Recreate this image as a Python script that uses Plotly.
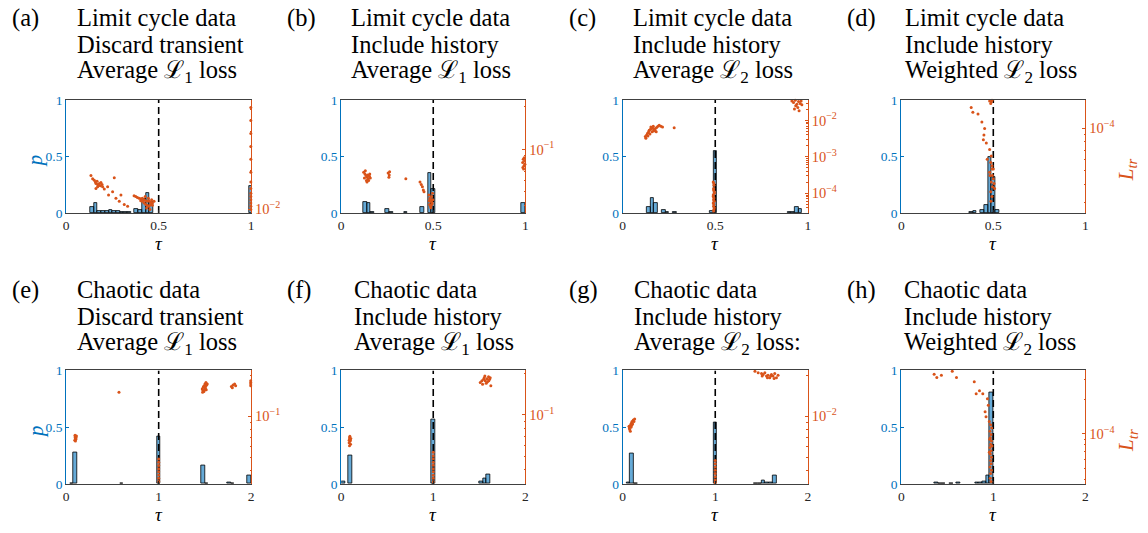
import math
import plotly.graph_objects as go

BLUE = "#0072BD"
ORANGE = "#D95319"
BAR_FILL = "rgba(0,114,189,0.6)"
W, H = 1148, 533

# ---------------- data: histogram bins (tau centre, probability p) ----------------
a_hist_tau = [0.14, 0.16, 0.18, 0.20, 0.22, 0.24, 0.26, 0.28, 0.30, 0.32, 0.34, 0.38, 0.40, 0.42, 0.44, 0.46, 1.00]
a_hist_p = [0.05, 0.09, 0.02, 0.02, 0.02, 0.025, 0.015, 0.015, 0.01, 0.01, 0.005, 0.04, 0.03, 0.12, 0.18, 0.10, 0.24]
b_hist_tau = [0.13, 0.15, 0.17, 0.25, 0.27, 0.35, 0.44, 0.48, 0.50, 0.99]
b_hist_p = [0.095, 0.09, 0.005, 0.035, 0.005, 0.005, 0.055, 0.35, 0.21, 0.09]
c_hist_tau = [0.14, 0.16, 0.18, 0.22, 0.24, 0.28, 0.48, 0.50, 0.90, 0.92, 0.94, 0.96]
c_hist_p = [0.05, 0.13, 0.09, 0.03, 0.01, 0.008, 0.02, 0.55, 0.005, 0.01, 0.05, 0.04]
d_hist_tau = [0.38, 0.40, 0.44, 0.46, 0.48, 0.50, 0.52]
d_hist_p = [0.005, 0.015, 0.025, 0.07, 0.50, 0.32, 0.03]
e_hist_tau = [0.06, 0.10, 0.60, 1.00, 1.48, 1.52, 1.76, 1.80, 1.98]
e_hist_p = [0.005, 0.28, 0.005, 0.42, 0.16, 0.005, 0.015, 0.008, 0.07]
f_hist_tau = [0.02, 0.10, 1.00, 1.52, 1.56, 1.60]
f_hist_p = [0.02, 0.25, 0.57, 0.025, 0.05, 0.08]
g_hist_tau = [0.06, 0.10, 0.14, 1.00, 1.44, 1.48, 1.52, 1.56, 1.60, 1.64]
g_hist_p = [0.015, 0.27, 0.005, 0.54, 0.005, 0.005, 0.028, 0.01, 0.015, 0.077]
h_hist_tau = [0.38, 0.42, 0.46, 0.54, 0.62, 0.82, 0.86, 0.90, 0.94, 0.98]
h_hist_p = [0.015, 0.008, 0.008, 0.008, 0.015, 0.015, 0.01, 0.02, 0.07, 0.81]

# ---------------- data: training runs (tau, log10 of training loss L_tr) ----------------
a_pt_tau = [0.134, 0.143, 0.152, 0.158, 0.161, 0.167, 0.170, 0.176, 0.179, 0.185, 0.188, 0.194, 0.170, 0.161, 0.197,
            0.206, 0.224, 0.229, 0.260, 0.251, 0.269, 0.287, 0.296, 0.314, 0.332,
            0.367, 0.376, 0.385, 0.394, 0.403, 0.412, 0.421, 0.430, 0.439, 0.448, 0.457, 0.466, 0.412, 0.421, 0.430,
            0.439, 0.448, 0.457, 0.466, 0.475, 0.403, 0.427, 0.444, 0.462, 0.435, 0.453,
            0.998, 0.998, 0.998, 0.998, 0.998, 0.998, 0.998, 0.998, 0.998, 0.998, 0.998, 0.998, 0.998, 0.998]
a_pt_logloss = [-1.738, -1.763, -1.775, -1.788, -1.801, -1.783, -1.808, -1.813, -1.801, -1.818, -1.793, -1.808, -1.826,
                -1.838, -1.826, -1.843, -1.826, -1.889, -1.755, -1.864, -1.914, -1.939, -1.889, -1.964, -1.977,
                -1.896, -1.901, -1.909, -1.914, -1.919, -1.914, -1.927, -1.934, -1.939, -1.934, -1.944, -1.952, -1.939,
                -1.952, -1.964, -1.970, -1.977, -1.964, -1.970, -1.939, -1.934, -1.901, -1.914, -1.927, -1.990, -2.002,
                -1.208, -1.309, -1.410, -1.511, -1.612, -1.712, -1.788, -1.838, -1.876, -1.901, -1.927, -1.952, -1.977, -2.002]

b_pt_tau = [0.122, 0.129, 0.135, 0.140, 0.144, 0.147, 0.153, 0.126, 0.137, 0.149, 0.158, 0.131, 0.140, 0.155,
            0.255, 0.261, 0.259, 0.263, 0.351,
            0.428, 0.435, 0.441, 0.446, 0.450, 0.477, 0.482, 0.486, 0.489, 0.495, 0.480, 0.486, 0.491, 0.496, 0.484,
            0.487, 0.493, 0.498, 0.478,
            0.986, 0.989, 0.993, 0.996, 0.991, 0.998, 0.987, 0.994]
b_pt_logloss = [-1.161, -1.173, -1.184, -1.196, -1.180, -1.207, -1.189, -1.202, -1.219, -1.219, -1.202, -1.150, -1.230, -1.173,
                -1.166, -1.180, -1.196, -1.157, -1.207,
                -1.230, -1.248, -1.264, -1.287, -1.299, -1.322, -1.345, -1.356, -1.367, -1.379, -1.390, -1.402, -1.333,
                -1.310, -1.367, -1.413, -1.390, -1.356, -1.363,
                -1.092, -1.070, -1.115, -1.081, -1.138, -1.104, -1.127, -1.058]

c_pt_tau = [0.122, 0.129, 0.134, 0.140, 0.143, 0.149, 0.154, 0.161, 0.168, 0.176, 0.183, 0.190, 0.197, 0.206, 0.215,
            0.125, 0.136, 0.147, 0.158, 0.167, 0.174, 0.181, 0.152, 0.165, 0.278,
            0.489, 0.493, 0.491, 0.495, 0.489, 0.493, 0.491, 0.495, 0.489, 0.493, 0.491, 0.495, 0.493, 0.489, 0.495,
            0.491, 0.493, 0.491,
            0.914, 0.923, 0.932, 0.941, 0.950, 0.959, 0.946, 0.953, 0.935, 0.964, 0.968, 0.928]
c_pt_logloss = [-2.444, -2.399, -2.355, -2.310, -2.266, -2.248, -2.222, -2.204, -2.248, -2.222, -2.195, -2.159, -2.133,
                -2.159, -2.177, -2.488, -2.426, -2.373, -2.310, -2.293, -2.266, -2.310, -2.177, -2.159, -2.204,
                -3.687, -3.776, -3.865, -3.954, -4.043, -4.131, -4.176, -4.220, -4.265, -4.309, -4.353, -4.398, -4.442,
                -4.087, -3.998, -3.909, -3.732, -4.487,
                -1.466, -1.511, -1.449, -1.555, -1.484, -1.538, -1.644, -1.733, -1.600, -1.466, -1.573, -1.689]

d_pt_tau = [0.480, 0.489, 0.493, 0.486, 0.380, 0.389, 0.417, 0.438, 0.453, 0.449, 0.446, 0.462, 0.480, 0.489, 0.486,
            0.493, 0.482, 0.489, 0.496, 0.486, 0.493, 0.500, 0.504, 0.507, 0.480, 0.493, 0.467, 0.500, 0.495, 0.487]
d_pt_logloss = [-3.807, -3.812, -3.802, -3.825, -3.853, -3.887, -3.899, -3.956, -4.002, -4.048, -4.082, -4.105, -4.151,
                -4.197, -4.242, -4.288, -4.334, -4.380, -4.414, -4.449, -4.483, -4.357, -4.391, -4.426, -4.311, -4.265,
                -4.220, -4.288, -4.334, -4.517]

e_pt_tau = [0.096, 0.100, 0.104, 0.093, 0.107, 0.100, 0.111, 0.096, 0.571,
            1.471, 1.482, 1.493, 1.500, 1.507, 1.518, 1.479, 1.489, 1.504, 1.514, 1.525, 1.475, 1.496, 1.486, 1.511,
            1.786, 1.804, 1.821, 1.796, 1.832, 1.995, 1.995, 1.995, 1.995,
            1.0, 1.0, 1.0, 1.0, 1.0, 1.0, 1.0, 1.0]
e_pt_logloss = [-1.153, -1.163, -1.170, -1.177, -1.158, -1.182, -1.146, -1.139, -0.821,
                -0.797, -0.785, -0.773, -0.761, -0.778, -0.768, -0.809, -0.816, -0.792, -0.802, -0.761, -0.821, -0.802,
                -0.778, -0.749,
                -0.778, -0.768, -0.761, -0.788, -0.773, -0.749, -0.761, -0.773, -0.737,
                -1.315, -1.339, -1.363, -1.387, -1.411, -1.435, -1.459, -1.483]

f_pt_tau = [0.090, 0.094, 0.097, 0.086, 0.101, 0.094, 0.090, 0.097, 0.104, 0.086,
            1.511, 1.529, 1.547, 1.554, 1.565, 1.583, 1.601, 1.612, 1.619, 1.576, 1.590, 1.536, 1.626, 1.561, 1.604,
            1.0, 1.0, 1.0, 1.0, 1.0, 1.0, 1.0, 1.0, 1.0, 1.0]
f_pt_logloss = [-1.166, -1.178, -1.190, -1.202, -1.213, -1.155, -1.225, -1.185, -1.171, -1.185,
                -0.767, -0.755, -0.743, -0.732, -0.755, -0.739, -0.725, -0.743, -0.732, -0.772, -0.762, -0.779, -0.790,
                -0.720, -0.755,
                -1.272, -1.296, -1.319, -1.343, -1.366, -1.390, -1.413, -1.437, -1.460, -1.484]

g_pt_tau = [0.071, 0.079, 0.086, 0.093, 0.100, 0.114, 0.129, 0.075, 0.082, 0.089, 0.096, 0.068, 0.107, 0.121,
            1.429, 1.464, 1.500, 1.518, 1.536, 1.554, 1.571, 1.589, 1.607, 1.625, 1.643, 1.661, 1.636, 1.600, 1.564,
            1.679, 1.507,
            1.0, 1.0, 1.0, 1.0, 1.0, 1.0, 1.0, 1.0]
g_pt_logloss = [-2.086, -2.074, -2.062, -2.050, -2.038, -2.026, -2.019, -2.098, -2.110, -2.081, -2.067, -2.074, -2.057, -2.038,
                -1.665, -1.677, -1.682, -1.689, -1.677, -1.701, -1.696, -1.713, -1.689, -1.701, -1.682, -1.713, -1.720,
                -1.701, -1.713, -1.696, -1.701,
                -2.327, -2.351, -2.375, -2.399, -2.423, -2.447, -2.471, -2.490]

h_pt_tau = [0.357, 0.386, 0.436, 0.554, 0.600, 0.793, 0.814, 0.850, 0.886, 0.911, 0.921, 0.936, 0.946, 0.957, 0.971,
            0.964, 0.975, 0.968, 0.979, 0.971, 0.964, 0.975, 0.968, 0.979, 0.971, 0.975, 0.964, 0.979, 0.971, 0.968,
            0.975, 0.982, 0.961, 0.986, 0.957]
h_pt_logloss = [-3.474, -3.503, -3.483, -3.446, -3.503, -3.540, -3.646, -3.618, -3.646, -3.804, -3.847, -3.689, -3.747,
                -3.890, -3.919, -3.976, -4.005, -4.033, -4.062, -4.090, -4.119, -4.148, -4.176, -4.205, -4.234, -4.262,
                -4.291, -4.320, -4.348, -4.391, -4.420, -3.947, -4.047, -4.105, -4.162]

# ---------------- labels ----------------
panel_letters = ["(a)", "(b)", "(c)", "(d)", "(e)", "(f)", "(g)", "(h)"]
panel_titles = [
    ["Limit cycle data", "Discard transient", "Average ℒ<sub>1</sub> loss"],
    ["Limit cycle data", "Include history", "Average ℒ<sub>1</sub> loss"],
    ["Limit cycle data", "Include history", "Average ℒ<sub>2</sub> loss"],
    ["Limit cycle data", "Include history", "Weighted ℒ<sub>2</sub> loss"],
    ["Chaotic data", "Discard transient", "Average ℒ<sub>1</sub> loss"],
    ["Chaotic data", "Include history", "Average ℒ<sub>1</sub> loss"],
    ["Chaotic data", "Include history", "Average ℒ<sub>2</sub> loss:"],
    ["Chaotic data", "Include history", "Weighted ℒ<sub>2</sub> loss"],
]
top_xticks = [0, 0.5, 1]
top_xticklabels = ["0", "0.5", "1"]
bot_xticks = [0, 1, 2]
bot_xticklabels = ["0", "1", "2"]
p_ticks = [0, 0.5, 1]
p_ticklabels = ["0", "0.5", "1"]

hist_data = [(a_hist_tau, a_hist_p), (b_hist_tau, b_hist_p), (c_hist_tau, c_hist_p), (d_hist_tau, d_hist_p),
             (e_hist_tau, e_hist_p), (f_hist_tau, f_hist_p), (g_hist_tau, g_hist_p), (h_hist_tau, h_hist_p)]
pt_data = [(a_pt_tau, a_pt_logloss), (b_pt_tau, b_pt_logloss), (c_pt_tau, c_pt_logloss), (d_pt_tau, d_pt_logloss),
           (e_pt_tau, e_pt_logloss), (f_pt_tau, f_pt_logloss), (g_pt_tau, g_pt_logloss), (h_pt_tau, h_pt_logloss)]
true_tau = [0.5, 0.5, 0.5, 0.5, 1.0, 1.0, 1.0, 1.0]
loss_ticks = [[1e-2], [1e-1], [1e-4, 1e-3, 1e-2], [1e-4], [1e-1], [1e-1], [1e-2], [1e-4]]

# ---------------- layout geometry (pixels) ----------------
col_x = [(63.5, 249.5), (340, 525), (623, 809), (903, 1088)]
row_y = [(95.7, 212.0), (374.0, 490.7)]
loss_range = [(-2.03, -1.15), (-1.45, -0.65), (-4.54, -1.44), (-4.6, -3.8),
              (-1.5, -0.66), (-1.5, -0.68), (-2.5, -1.66), (-4.44, -3.44)]
letter_x = [7, 283, 567, 846]
title_x = [72, 348, 631, 905, 72, 351, 632, 904]
title_y = [[11, 38.5, 66], [291, 318.5, 346]]


def fx(px):
    return px / W


def fy(py):
    return 1 - py / H


def sup(v):
    e = int(round(math.log10(v)))
    return "10<sup>\u2212%d</sup>" % (-e)


SERIF = "Liberation Serif"
TITLE_SIZE = 24.5
TICK_SIZE = 13.5
fig = go.Figure()
annotations = []

for i in range(8):
    n = i + 1
    row, col = i // 4, i % 4
    xa = "x" if n == 1 else "x%d" % n
    ya_n, yb_n = 2 * n - 1, 2 * n
    ya = "y" if ya_n == 1 else "y%d" % ya_n
    yb = "y%d" % yb_n
    bw = 0.02 if row == 0 else 0.04
    xmax = 1 if row == 0 else 2
    htau, hp = hist_data[i]
    ptau, plog = pt_data[i]

    fig.add_trace(go.Bar(x=htau, y=hp, width=bw, xaxis=xa, yaxis=ya,
                         marker=dict(color=BAR_FILL, line=dict(color="black", width=0.8)),
                         hoverinfo="skip"))
    fig.add_trace(go.Scatter(x=[true_tau[i], true_tau[i]], y=[0, 1], mode="lines", xaxis=xa, yaxis=ya,
                             line=dict(color="black", width=1.6, dash="7px,4px")))
    fig.add_trace(go.Scatter(x=ptau, y=[10 ** v for v in plog], mode="markers", xaxis=xa, yaxis=yb,
                             marker=dict(color=ORANGE, size=3, line=dict(width=0)), cliponaxis=False))

    x0, x1 = col_x[col]
    y0, y1 = row_y[row]
    lo, hi = loss_range[i]
    minor_vals = []
    for k in range(math.floor(lo) - 1, math.ceil(hi) + 1):
        for m in range(2, 10):
            v = m * 10 ** k
            if lo <= math.log10(v) <= hi:
                minor_vals.append(v)

    fig.update_layout(**{
        ("xaxis" if n == 1 else "xaxis%d" % n): dict(
            domain=[fx(x0), fx(x1)], range=[0, xmax], anchor=ya,
            tickvals=top_xticks if row == 0 else bot_xticks,
            ticktext=top_xticklabels if row == 0 else bot_xticklabels,
            ticks="inside", ticklen=3, tickcolor="#262626", showline=True, linecolor="#404040",
            linewidth=1, mirror=True, showgrid=False, zeroline=False,
            tickfont=dict(family=SERIF, size=TICK_SIZE, color="#262626")),
        ("yaxis" if ya_n == 1 else "yaxis%d" % ya_n): dict(
            domain=[fy(y1), fy(y0)], range=[0, 1], anchor=xa,
            tickvals=p_ticks, ticktext=p_ticklabels,
            ticks="inside", ticklen=3, tickcolor=BLUE, showline=True, linecolor=BLUE, linewidth=1,
            showgrid=False, zeroline=False, tickfont=dict(family=SERIF, size=TICK_SIZE, color=BLUE)),
        "yaxis%d" % yb_n: dict(
            domain=[fy(y1), fy(y0)], overlaying=ya, side="right", anchor=xa, type="log",
            range=[lo, hi], tickvals=loss_ticks[i], ticktext=[sup(v) for v in loss_ticks[i]],
            ticks="inside", ticklen=3, tickcolor=ORANGE, showline=True, linecolor=ORANGE, linewidth=1,
            showgrid=False, zeroline=False, tickfont=dict(family=SERIF, size=TICK_SIZE + 1, color=ORANGE),
            minor=dict(tickmode="array", tickvals=minor_vals, ticks="inside", ticklen=1.5,
                       tickcolor=ORANGE, showgrid=False)),
    })

    # panel letter and title lines
    annotations.append(dict(x=fx(letter_x[col]), y=fy(title_y[row][0]), xref="paper", yref="paper",
                            text=panel_letters[i], showarrow=False, xanchor="left", yanchor="middle",
                            font=dict(family=SERIF, size=TITLE_SIZE, color="black")))
    for j, line in enumerate(panel_titles[i]):
        annotations.append(dict(x=fx(title_x[i]), y=fy(title_y[row][j]), xref="paper", yref="paper",
                                text=line, showarrow=False, xanchor="left", yanchor="middle",
                                font=dict(family=SERIF, size=TITLE_SIZE, color="black")))
    # tau label
    annotations.append(dict(x=fx((x0 + x1) / 2), y=fy(y1 + 31), xref="paper", yref="paper",
                            text="<i>τ</i>", showarrow=False, xanchor="center", yanchor="middle",
                            font=dict(family=SERIF, size=19, color="black")))

for row in range(2):
    yc = (row_y[row][0] + row_y[row][1]) / 2 + 4
    annotations.append(dict(x=fx(33), y=fy(yc), xref="paper", yref="paper", text="<i>p</i>",
                            showarrow=False, textangle=-90, xanchor="center", yanchor="middle",
                            font=dict(family=SERIF, size=21, color=BLUE)))
    annotations.append(dict(x=fx(1130), y=fy(yc + 10), xref="paper", yref="paper",
                            text="<i>L</i><sub><i>tr</i></sub>",
                            showarrow=False, textangle=-90, xanchor="center", yanchor="middle",
                            font=dict(family=SERIF, size=21, color=ORANGE)))

fig.update_layout(width=W, height=H, margin=dict(l=0, r=0, t=0, b=0), showlegend=False,
                  paper_bgcolor="white", plot_bgcolor="white", annotations=annotations,
                  bargap=0)
fig.write_html("out.html")
